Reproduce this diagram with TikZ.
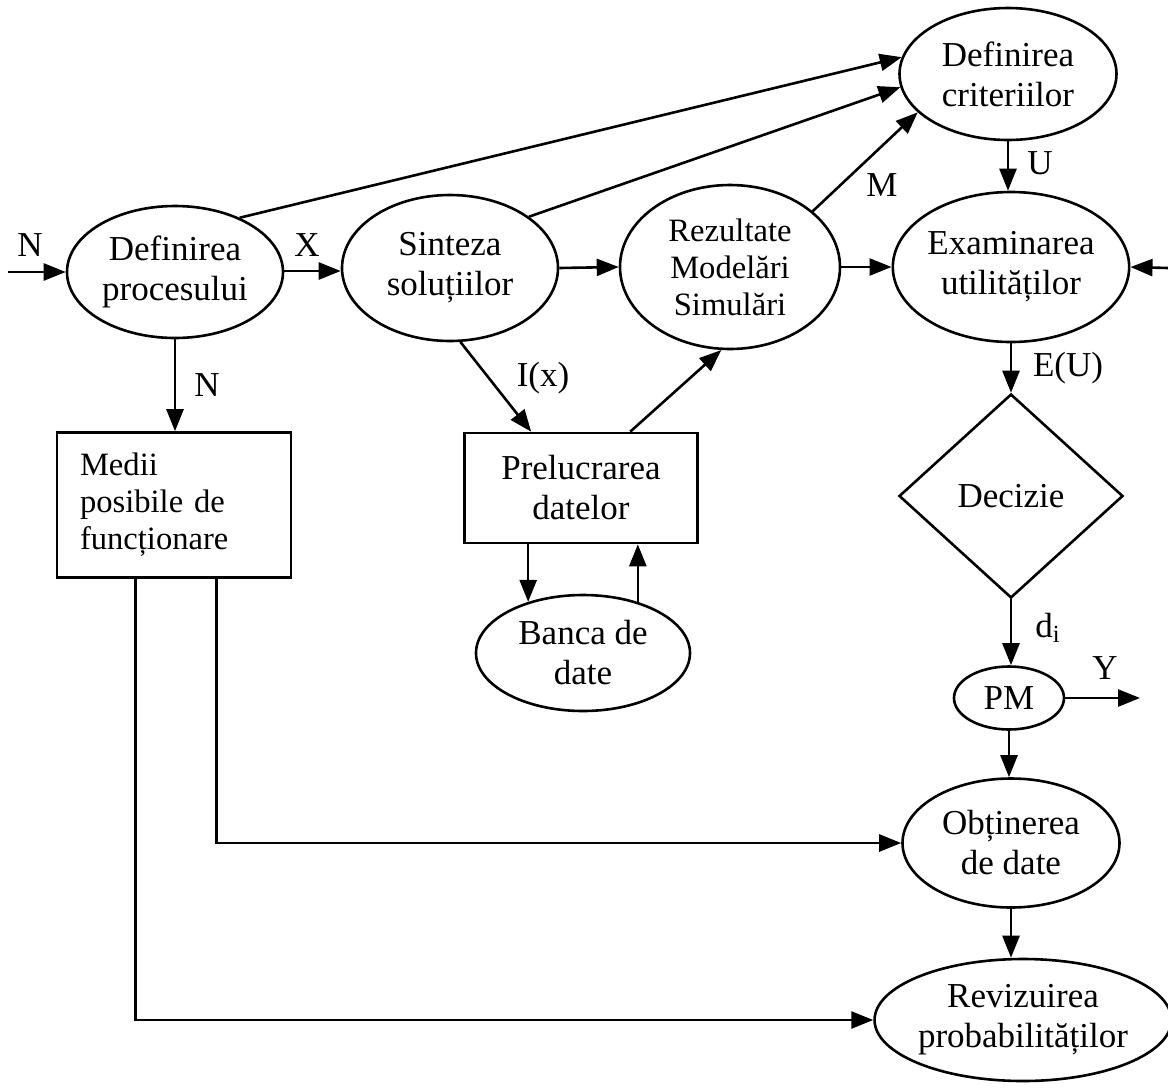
\documentclass[tikz,border=0pt]{standalone}
\usepackage{fontspec}
\setmainfont{Liberation Serif}
\usetikzlibrary{shapes.geometric,arrows.meta,calc}
\begin{document}
\begin{tikzpicture}[x=0.5pt,y=-0.5pt,
  every node/.style={inner sep=0pt, font=\fontsize{17.5}{20}\selectfont},
  oval/.style={draw, ellipse, line width=1.3pt, align=center},
  box/.style={draw, rectangle, line width=1.3pt},
  smalltext/.style={font=\fontsize{16.3}{18.5}\selectfont},
  link/.style={line width=1.3pt, -{Triangle[length=11pt,width=8.5pt]}},
  lbl/.style={font=\fontsize{17.5}{20}\selectfont}]
\useasboundingbox (0,0) rectangle (1168,1088);

% process blocks
\node[oval, minimum width=108pt, minimum height=66pt] (defp) at (175,272) {Definirea\\procesului};
\node[oval, minimum width=108pt, minimum height=73pt] (sint) at (450,268) {Sinteza\\soluțiilor};
\node[oval, smalltext, minimum width=110pt, minimum height=82pt] (rez) at (730,267) {Rezultate\\Modelări\\Simulări};
\node[oval, minimum width=108.5pt, minimum height=66pt] (crit) at (1008,74) {Definirea\\criteriilor};
\node[oval, minimum width=115.5pt, minimum height=75pt] (exam) at (1011,267) {Examinarea\\utilităților};
\node[draw, diamond, line width=1.3pt, minimum width=112pt, minimum height=102pt] (dec) at (1011,496) {Decizie};
\node[oval, minimum width=55pt, minimum height=31.5pt] (pm) at (1009,698) {PM};
\node[oval, minimum width=108.5pt, minimum height=64.5pt] (obt) at (1011,843) {Obținerea\\de date};
\node[oval, minimum width=145pt, minimum height=61pt] (rev) at (1023,1020) {Revizuirea\\probabilităților};
\node[oval, minimum width=107pt, minimum height=58pt] (banca) at (583,653) {Banca de\\date};
\node[box, smalltext, minimum width=117pt, minimum height=72.5pt, text width=94pt, align=left] (medii) at (174,505) {Medii\\posibile de\\funcționare};
\node[box, minimum width=116.5pt, minimum height=55pt, align=center] (prel) at (581,488) {Prelucrarea\\datelor};

% free ends
\coordinate (nin) at (8,272);
\coordinate (rin) at (1168,268);
\coordinate (yout) at (1140,698);

% connectors
\draw[link] (nin) -- (defp.west |- nin);
\draw[link] (defp.east |- 0,271) -- (sint.west |- 0,271);
\draw[link] (defp.south) -- (defp.south |- medii.north);
\draw[link] (defp.40) -- (crit.171);
\draw[link] (sint.33) -- (crit.187);
\draw[link] (rez.34) -- (crit.203);
\draw[link] (sint.east) -- (rez.west);
\draw[link] (rez.east) -- (exam.west);
\draw[link] (rin) -- (exam.east);
\draw[link] (crit.south) -- (crit.south |- exam.north);
\draw[link] (exam.south) -- (exam.south |- dec.north);
\draw[link] (dec.south) -- (dec.south |- pm.north);
\draw[link] (pm.east) -- (yout);
\draw[link] (pm.south) -- (pm.south |- obt.north);
\draw[link] (obt.south) -- (obt.south |- rev.north);
\draw[link] (sint.278) -- ($(prel.north west)+(68,0)$);
\draw[link] ($(prel.north west)+(167,0)$) -- (rez.264);
\draw[link] (banca.137 |- prel.south) -- (banca.137);
\draw[link] (banca.43) -- (banca.43 |- prel.south);
\draw[link] ($(medii.south west)+(161,0)$) |- (obt.west);
\draw[link] ($(medii.south west)+(80,0)$) |- (rev.west);

% signal labels
\node[lbl] (lN) at (30,245) {N};
\node[lbl] (lX) at (307,245) {X};
\node[lbl] (lN2) at (207,385) {N};
\node[lbl] (lM) at (882,185) {M};
\node[lbl] (lU) at (1040,163) {U};
\node[lbl] (lEU) at (1068,368) {E(U)};
\node[lbl] (lIx) at (543,378) {I(x)};
\node[lbl] (ldi) at (1048,628) {d\textsubscript{i}};
\node[lbl] (lY) at (1105,668) {Y};
\end{tikzpicture}
\end{document}
